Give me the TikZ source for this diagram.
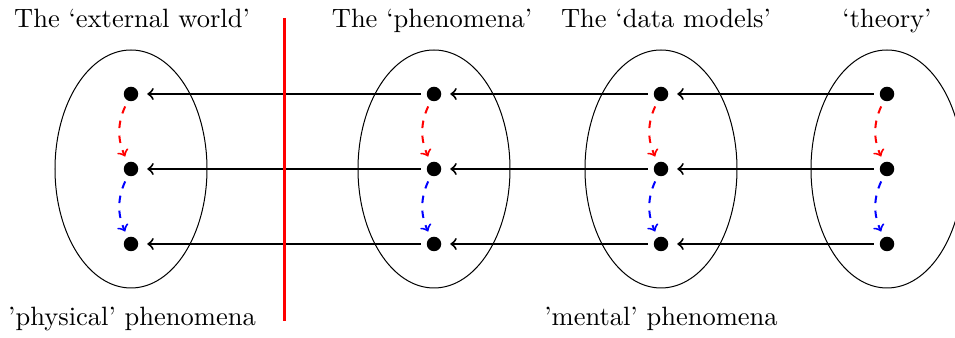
\documentclass[tikz,border=0pt]{standalone}
\begin{document}
\begin{tikzpicture}[x=0.4pt,y=-0.4pt,
  dot/.style={circle,fill=black,minimum size=5.8pt,inner sep=0pt,outer sep=1.2pt},
  link/.style={->,thick,shorten <=1.2pt,shorten >=2.4pt},
  flow/.style={->,thick,dashed,bend right=25,shorten <=1.4pt,shorten >=1.4pt},
  lab/.style={anchor=base,inner sep=0pt,font=\fontsize{10.6pt}{13pt}\selectfont},
  blob/.style={draw=black,thin}]
\useasboundingbox (0,0) rectangle (955,338);
% ellipses
\foreach \cx in {131,434,661,887}
  \draw[blob] (\cx,169) ellipse [x radius=30.4pt, y radius=47.6pt];
% dots
\foreach \cx [count=\c] in {131,434,661,887}
  \foreach \cy [count=\r] in {94,169,244}
    \node[dot] (d\c\r) at (\cx,\cy) {};
% horizontal arrows
\foreach \c [evaluate=\c as \n using int(\c+1)] in {1,2,3}
  \foreach \r in {1,2,3}
    \draw[link] (d\n\r) -- (d\c\r);
% dashed arrows
\foreach \c in {1,2,3,4}{
  \draw[flow,red] (d\c1) to (d\c2);
  \draw[flow,blue] (d\c2) to (d\c3);
}
% red divider
\coordinate (rt) at (284,18);
\coordinate (rb) at (284,321);
\draw[red,line width=1.2pt] (rt) -- (rb);
% labels
\node[lab] (t1) at (132,28) {The `external world'};
\node[lab] (t2) at (432,28) {The `phenomena'};
\node[lab] (t3) at (666,28) {The `data models'};
\node[lab] (t4) at (887,28) {`theory'};
\node[lab] (b1) at (132,326) {'physical' phenomena};
\node[lab] (b2) at (661,326) {'mental' phenomena};
\end{tikzpicture}
\end{document}
